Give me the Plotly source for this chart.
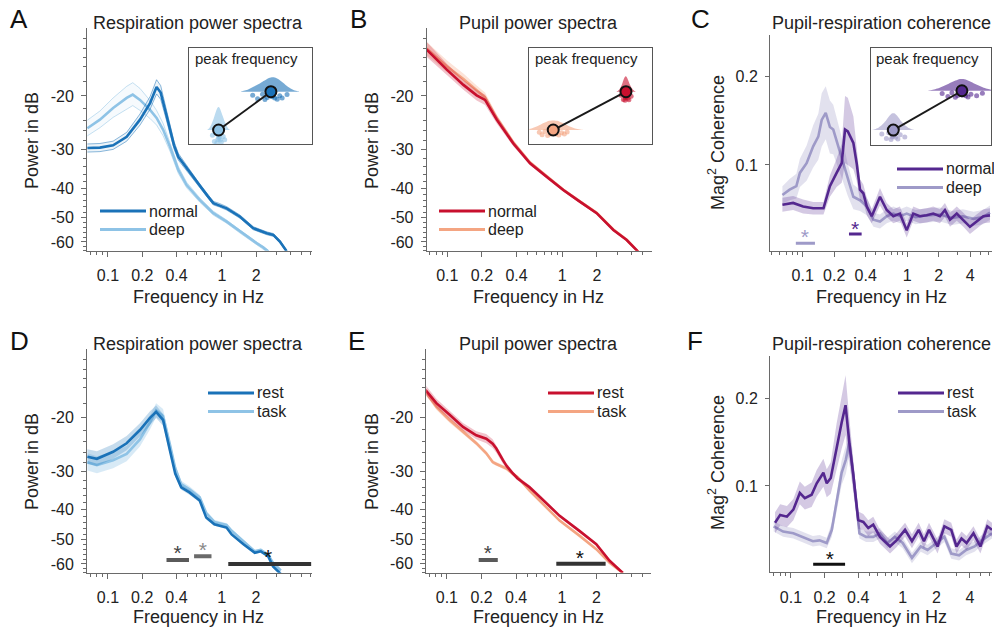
import numpy as np
import plotly.graph_objs as go

W, H = 994, 631
FONT = 'Liberation Sans, Arial, sans-serif'
INK = '#222222'
AXIS = '#6a6a6a'

BLUE, BLUE_L = '#1a72b8', '#8ec3e6'
RED, RED_L = '#c8102e', '#f4a582'
PURP, PURP_L = '#54278f', '#9e9ac8'

# ---------------- data ----------------
# A  respiration power spectra (dB), normal vs deep breathing
resp_f_normal = [0.066, 0.085, 0.111, 0.146, 0.191, 0.234, 0.267, 0.29, 0.32, 0.35, 0.38, 0.414, 0.49, 0.57,
                 0.64, 0.75, 0.84, 0.95, 1.1, 1.44, 1.88, 2.47, 2.82, 3.22, 3.69]
resp_db_normal = [-29.6, -29.5, -29.0, -27.2, -23.9, -21.1, -18.7, -19.5, -22.5, -25.5, -29.0, -31.6, -34.4, -37.0,
                  -39.5, -42.5, -44.8, -45.5, -46.6, -49.6, -54.1, -56.2, -56.9, -59.8, -64.3]
resp_sem_normal = [0.9, 0.9, 0.9, 0.9, 1.0, 1.0, 1.0, 1.0, 0.9, 0.9, 0.8, 0.8, 0.7, 0.7,
                   0.6, 0.6, 0.6, 0.6, 0.6, 0.6, 0.6, 0.6, 0.6, 0.6, 0.6]
resp_f_deep = [0.066, 0.085, 0.111, 0.146, 0.165, 0.191, 0.234, 0.267, 0.305, 0.35, 0.414, 0.49, 0.64, 0.84,
               1.1, 1.44, 2.01, 2.3, 2.55]
resp_db_deep = [-25.5, -23.9, -21.9, -20.3, -19.8, -20.6, -22.2, -23.6, -25.8, -29.3, -34.9, -39.1, -43.8, -48.3,
                -51.5, -55.5, -60.5, -62.5, -64.5]
resp_sem_deep = [1.5, 1.5, 1.6, 1.7, 1.7, 1.7, 1.5, 1.3, 1.2, 1.0, 0.9, 0.8, 0.7, 0.7, 0.6, 0.6, 0.6, 0.6, 0.6]

# B  pupil power spectra (dB)
pup_f = [0.066, 0.099, 0.138, 0.18, 0.213, 0.269, 0.375, 0.524, 0.73, 1.02, 1.42, 1.99, 2.78, 3.63, 4.58]
pup_db_normal = [-14.1, -16.4, -18.4, -19.9, -20.6, -23.9, -28.6, -33.2, -36.7, -40.6, -44.3, -48.3, -54.8, -59.1, -64.6]
pup_db_deep = [-14.0, -16.0, -17.6, -19.2, -20.2, -23.6, -28.4, -33.0, -36.6, -40.5, -44.2, -48.2, -54.6, -59.0, -64.6]
pup_sem_normal = [0.8, 0.7, 0.7, 0.8, 0.8, 0.7, 0.6, 0.5, 0.5, 0.5, 0.5, 0.5, 0.5, 0.5, 0.5]
pup_sem_deep = [0.7, 0.7, 0.7, 0.7, 0.7, 0.6, 0.6, 0.5, 0.5, 0.5, 0.5, 0.5, 0.5, 0.5, 0.5]

# C  pupil-respiration coherence, normal vs deep
coh_f_normal = [0.064, 0.081, 0.101, 0.126, 0.158, 0.182, 0.211, 0.236, 0.254, 0.27, 0.305, 0.328, 0.353, 0.38,
                0.41, 0.457, 0.548, 0.636, 0.735, 0.85, 0.987, 1.14, 1.32, 1.53, 1.77, 2.05, 2.29, 2.56, 2.97,
                3.43, 3.97, 4.6, 5.33, 6.17]
coh_normal = [0.055, 0.057, 0.053, 0.051, 0.051, 0.076, 0.091, 0.102, 0.140, 0.138, 0.125, 0.102, 0.072, 0.068,
              0.053, 0.042, 0.064, 0.049, 0.042, 0.045, 0.026, 0.045, 0.042, 0.043, 0.045, 0.042, 0.049, 0.038,
              0.045, 0.038, 0.030, 0.036, 0.042, 0.043]
coh_sem_normal = [0.008, 0.008, 0.008, 0.007, 0.007, 0.012, 0.016, 0.022, 0.038, 0.038, 0.030, 0.020, 0.012, 0.010,
                  0.010, 0.008, 0.010, 0.008, 0.008, 0.008, 0.008, 0.008, 0.008, 0.008, 0.008, 0.008, 0.008, 0.008,
                  0.008, 0.008, 0.008, 0.008, 0.008, 0.008]
coh_f_deep = [0.064, 0.075, 0.087, 0.094, 0.109, 0.126, 0.141, 0.152, 0.166, 0.182, 0.196, 0.219, 0.245, 0.27,
              0.305, 0.353, 0.41, 0.475, 0.548, 0.636, 0.735, 0.85, 0.987, 1.2, 1.53, 2.05, 2.7, 3.4, 4.3, 5.3, 6.17]
coh_deep = [0.066, 0.072, 0.076, 0.091, 0.102, 0.121, 0.132, 0.151, 0.159, 0.143, 0.140, 0.121, 0.102, 0.083,
            0.064, 0.060, 0.053, 0.038, 0.036, 0.042, 0.045, 0.042, 0.045, 0.041, 0.043, 0.044, 0.040, 0.042,
            0.039, 0.041, 0.046]
coh_sem_deep = [0.010, 0.012, 0.014, 0.016, 0.020, 0.024, 0.026, 0.030, 0.030, 0.030, 0.028, 0.025, 0.022, 0.018,
                0.014, 0.012, 0.010, 0.008, 0.008, 0.008, 0.008, 0.008, 0.008, 0.008, 0.008, 0.008, 0.008, 0.008,
                0.008, 0.008, 0.008]

# D  respiration power spectra, rest vs task
rt_f = [0.066, 0.08, 0.111, 0.146, 0.191, 0.234, 0.265, 0.305, 0.35, 0.39, 0.44, 0.52, 0.64, 0.73, 0.86, 1.1,
        1.22, 1.55, 1.95, 2.2, 2.55, 2.82, 3.3]
resp_db_rest = [-26.9, -27.3, -25.9, -24.3, -22.0, -20.1, -19.2, -20.4, -25.6, -30.5, -33.8, -35.1, -37.3, -42.4,
                -44.6, -45.7, -48.1, -51.8, -55.2, -54.6, -56.6, -61.1, -64.7]
resp_db_task = [-28.0, -28.6, -27.6, -26.3, -23.6, -20.8, -19.0, -19.8, -24.5, -29.3, -33.0, -34.3, -36.4, -41.0,
                -43.8, -44.8, -46.8, -50.6, -54.6, -54.0, -56.0, -59.5, -63.0]
resp_sem_rest = [1.5, 1.5, 1.4, 1.3, 1.1, 1.0, 0.9, 0.9, 0.8, 0.7, 0.6, 0.6, 0.6, 0.6, 0.5, 0.5, 0.5, 0.5, 0.5,
                 0.5, 0.5, 0.5, 0.5]
resp_sem_task = [1.8, 1.8, 1.7, 1.5, 1.3, 1.1, 1.0, 1.0, 0.9, 0.8, 0.8, 0.8, 0.7, 0.7, 0.7, 0.6, 0.6, 0.6, 0.6,
                 0.6, 0.6, 0.6, 0.6]

# E  pupil power spectra, rest vs task
pe_f = [0.065, 0.081, 0.105, 0.138, 0.18, 0.22, 0.25, 0.269, 0.307, 0.33, 0.375, 0.41, 0.524, 0.73, 0.955,
        1.42, 1.99, 2.6, 3.39]
pup_db_rest = [-16.3, -18.0, -19.6, -21.5, -22.9, -23.5, -24.4, -25.3, -27.6, -28.8, -30.5, -31.6, -33.8, -37.9,
               -41.9, -46.9, -51.8, -58.7, -64.3]
pup_db_task = [-16.5, -18.5, -20.4, -22.3, -24.3, -26.2, -28.0, -28.4, -29.0, -29.4, -30.6, -31.3, -34.7, -39.3,
               -43.4, -48.6, -53.8, -59.6, -64.3]
pup_sem_rest = [0.6, 0.6, 0.6, 0.6, 0.7, 0.8, 0.8, 0.8, 0.7, 0.6, 0.5, 0.5, 0.5, 0.5, 0.5, 0.5, 0.5, 0.5, 0.5]
pup_sem_task = [0.4, 0.4, 0.4, 0.4, 0.4, 0.4, 0.4, 0.4, 0.4, 0.4, 0.4, 0.4, 0.4, 0.4, 0.4, 0.4, 0.4, 0.4, 0.4]

# F  pupil-respiration coherence, rest vs task
coh_f_rest = [0.072, 0.080, 0.092, 0.105, 0.12, 0.133, 0.153, 0.17, 0.195, 0.209, 0.227, 0.256, 0.284, 0.308,
              0.333, 0.361, 0.40, 0.444, 0.492, 0.545, 0.626, 0.77, 0.88, 1.05, 1.21, 1.39, 1.55, 1.72, 2.05,
              2.36, 2.72, 3.03, 3.36, 3.73, 4.3, 4.96, 5.72, 6.3]
coh_rest = [0.058, 0.067, 0.065, 0.073, 0.092, 0.086, 0.090, 0.103, 0.115, 0.103, 0.109, 0.145, 0.172, 0.192,
            0.149, 0.113, 0.061, 0.059, 0.052, 0.056, 0.042, 0.031, 0.038, 0.050, 0.037, 0.050, 0.037, 0.050,
            0.031, 0.054, 0.050, 0.031, 0.040, 0.035, 0.046, 0.031, 0.054, 0.050]
coh_sem_rest = [0.012, 0.012, 0.012, 0.012, 0.013, 0.013, 0.014, 0.015, 0.016, 0.016, 0.018, 0.026, 0.030, 0.034,
                0.028, 0.020, 0.010, 0.009, 0.009, 0.009, 0.008, 0.008, 0.008, 0.008, 0.008, 0.008, 0.008, 0.008,
                0.008, 0.008, 0.008, 0.008, 0.008, 0.008, 0.008, 0.008, 0.008, 0.008]
coh_f_task = [0.07, 0.085, 0.105, 0.128, 0.157, 0.18, 0.209, 0.232, 0.256, 0.284, 0.31, 0.333, 0.361, 0.39, 0.41,
              0.47, 0.545, 0.626, 0.73, 0.85, 1.0, 1.21, 1.45, 1.67, 2.0, 2.36, 2.72, 3.2, 3.7, 4.4, 5.1, 6.3]
coh_task = [0.054, 0.048, 0.046, 0.042, 0.037, 0.038, 0.035, 0.050, 0.080, 0.115, 0.130, 0.150, 0.113, 0.069,
            0.046, 0.042, 0.042, 0.046, 0.035, 0.042, 0.035, 0.018, 0.031, 0.027, 0.035, 0.042, 0.023, 0.021,
            0.027, 0.031, 0.038, 0.046]
coh_sem_task = [0.006, 0.006, 0.006, 0.006, 0.006, 0.006, 0.006, 0.008, 0.010, 0.014, 0.016, 0.016, 0.014, 0.008,
                0.006, 0.006, 0.006, 0.006, 0.006, 0.006, 0.006, 0.006, 0.006, 0.006, 0.006, 0.006, 0.006, 0.006,
                0.006, 0.006, 0.006, 0.006]

# peak frequencies per subject (insets)
peak_resp_deep = [0.148, 0.152, 0.155, 0.157, 0.159, 0.160, 0.161, 0.162, 0.164, 0.166, 0.170, 0.173]
peak_resp_normal = [0.23, 0.24, 0.25, 0.255, 0.26, 0.265, 0.27, 0.272, 0.275, 0.28, 0.285, 0.29, 0.30]
peak_pup_deep = [0.125, 0.13, 0.135, 0.14, 0.145, 0.148, 0.15, 0.152, 0.155, 0.16, 0.165, 0.17, 0.175]
peak_pup_normal = [0.272, 0.276, 0.278, 0.279, 0.28, 0.28, 0.281, 0.282, 0.284, 0.286, 0.29]
peak_coh_deep = [0.14, 0.148, 0.152, 0.156, 0.158, 0.16, 0.16, 0.162, 0.164, 0.168, 0.172, 0.18]
peak_coh_normal = [0.245, 0.255, 0.262, 0.268, 0.272, 0.276, 0.28, 0.283, 0.286, 0.29, 0.295, 0.305, 0.315]

# significance clusters: (f_start, f_end, level, star_f, star_level)
sig_D = [(0.327, 0.515, -58.3, 0.41, -56.2), (0.571, 0.812, -56.6, 0.68, -54.8), (1.14, 6.1, -60.0, 2.55, -57.6)]
sig_E = [(0.189, 0.277, -58.3, 0.227, -56.2), (0.894, 2.4, -60.0, 1.43, -58.3)]
sig_C = [(0.086, 0.131, 0.0113, 0.105, 0.0165), (0.277, 0.366, 0.0219, 0.316, 0.0258)]
sig_F = [(0.158, 0.305, 0.0107, 0.223, 0.0150)]


def X(p):
    return p / W


def Y(p):
    return 1 - p / H


def ax_ref(n):
    return ('x' if n == 1 else 'x%d' % n), ('y' if n == 1 else 'y%d' % n)


def rgba(c, a):
    c = c.lstrip('#')
    return 'rgba(%d,%d,%d,%s)' % (int(c[0:2], 16), int(c[2:4], 16), int(c[4:6], 16), a)


traces = []


def curve(f, v, sem, color, n, flip=True, band=0.3, edges=False, width=2.6):
    xr, yr = ax_ref(n)
    # spectra are drawn as |dB| on a reversed log axis
    y = [-a for a in v] if flip else list(v)
    hi = [a + e for a, e in zip(y, sem)]
    lo = [a - e for a, e in zip(y, sem)]
    traces.append(go.Scatter(x=f + f[::-1], y=hi + lo[::-1], fill='toself', fillcolor=rgba(color, band),
                             line=dict(width=0), mode='lines', xaxis=xr, yaxis=yr, hoverinfo='skip'))
    if edges:
        for e in (hi, lo):
            traces.append(go.Scatter(x=f, y=e, mode='lines', line=dict(color=rgba(color, 0.5), width=1),
                                     xaxis=xr, yaxis=yr, hoverinfo='skip'))
    traces.append(go.Scatter(x=f, y=y, mode='lines', line=dict(color=color, width=width),
                             xaxis=xr, yaxis=yr, hoverinfo='skip'))


def sig(items, n, colors, star_colors, flip=True, width=4):
    xr, yr = ax_ref(n)
    s = -1 if flip else 1
    for (f0, f1, lev, sf, sl), c, sc in zip(items, colors, star_colors):
        traces.append(go.Scatter(x=[f0, f1], y=[s * lev, s * lev], mode='lines', line=dict(color=c, width=width),
                                 xaxis=xr, yaxis=yr, hoverinfo='skip'))
        traces.append(go.Scatter(x=[sf], y=[s * sl], mode='text', text=['*'], textposition='middle center',
                                 textfont=dict(size=21, color=sc, family=FONT), xaxis=xr, yaxis=yr,
                                 hoverinfo='skip'))


def raincloud(deep, normal, c_deep, c_normal, n, w_deep, w_normal, bw_deep, bw_normal):
    xr, yr = ax_ref(n)
    for vals, pos, c, w, bw in ((deep, 0, c_deep, w_deep, bw_deep), (normal, 1, c_normal, w_normal, bw_normal)):
        traces.append(go.Violin(x=vals, y0=pos, orientation='h', side='positive', width=w, bandwidth=bw,
                                fillcolor=rgba(c, 0.6), line=dict(width=0, color=rgba(c, 0.6)),
                                points='all', pointpos=-0.35, jitter=0.25,
                                marker=dict(size=5, color=rgba(c, 0.6)),
                                box_visible=False, meanline_visible=False, spanmode='soft',
                                xaxis=xr, yaxis=yr, hoverinfo='skip'))
    traces.append(go.Scatter(x=[np.mean(deep), np.mean(normal)], y=[0, 1], mode='lines+markers',
                             line=dict(color='#1a1a1a', width=2),
                             marker=dict(size=11, color=[c_deep, c_normal], line=dict(color='#111111', width=2)),
                             xaxis=xr, yaxis=yr, hoverinfo='skip'))


# A
curve(resp_f_deep, resp_db_deep, resp_sem_deep, BLUE_L, 1, band=0.08, edges=True)
curve(resp_f_normal, resp_db_normal, resp_sem_normal, BLUE, 1, band=0.08, edges=True)
# B
curve(pup_f, pup_db_deep, pup_sem_deep, RED_L, 2, band=0.3)
curve(pup_f, pup_db_normal, pup_sem_normal, RED, 2, band=0.25)
# C
curve(coh_f_deep, coh_deep, coh_sem_deep, PURP_L, 3, flip=False, band=0.3)
curve(coh_f_normal, coh_normal, coh_sem_normal, PURP, 3, flip=False, band=0.25)
sig(sig_C, 3, [PURP_L, PURP], [PURP_L, PURP], flip=False, width=3)
# D
curve(rt_f, resp_db_task, resp_sem_task, BLUE_L, 4, band=0.35)
curve(rt_f, resp_db_rest, resp_sem_rest, BLUE, 4, band=0.25)
sig(sig_D, 4, ['#5a5a5a', '#6a6a6a', '#333333'], ['#444444', '#8a8a8a', '#111111'])
# E
curve(pe_f, pup_db_task, pup_sem_task, RED_L, 5, band=0.35)
curve(pe_f, pup_db_rest, pup_sem_rest, RED, 5, band=0.25)
sig(sig_E, 5, ['#5a5a5a', '#333333'], ['#444444', '#111111'])
# F
curve(coh_f_task, coh_task, coh_sem_task, PURP_L, 6, flip=False, band=0.3)
curve(coh_f_rest, coh_rest, coh_sem_rest, PURP, 6, flip=False, band=0.25)
sig(sig_F, 6, ['#111111'], ['#111111'], flip=False, width=3)
# insets
raincloud(peak_resp_deep, peak_resp_normal, BLUE_L, BLUE, 7, 1.2, 0.75, 0.005, 0.012)
raincloud(peak_pup_deep, peak_pup_normal, RED_L, RED, 8, 0.5, 0.8, 0.014, 0.004)
raincloud(peak_coh_deep, peak_coh_normal, PURP_L, PURP, 9, 0.85, 0.6, 0.008, 0.012)

fig = go.Figure(traces)

tick_font = dict(size=16, color=INK, family=FONT)


def x_axis(n, x0, x1, f0, f1, major, minor):
    return dict(domain=[X(x0), X(x1)], type='log', range=[np.log10(f0), np.log10(f1)], anchor=ax_ref(n)[1],
                tickvals=major, ticktext=[('%g' % t) for t in major], ticks='outside', ticklen=5,
                tickcolor=AXIS, showline=True, linecolor=AXIS, linewidth=1, showgrid=False, zeroline=False,
                tickfont=tick_font, ticklabelstandoff=5,
                minor=dict(tickvals=minor, ticks='outside', ticklen=3, tickcolor=AXIS, showgrid=False))


def y_spec(n, y0, y1):
    return dict(domain=[Y(y1), Y(y0)], type='log', range=[np.log10(64.07), np.log10(12.02)],
                anchor=ax_ref(n)[0], tickvals=[20, 30, 40, 50, 60], ticktext=['-20', '-30', '-40', '-50', '-60'],
                ticks='outside', ticklen=5, tickcolor=AXIS, showline=True, linecolor=AXIS, linewidth=1,
                showgrid=False, zeroline=False, tickfont=tick_font, ticklabelstandoff=4,
                minor=dict(tickvals=[12, 13, 14, 15, 16, 18, 22, 24, 26, 28, 32, 34, 36, 38, 42, 44, 46, 48,
                                     52, 54, 56, 58, 62, 64],
                           ticks='outside', ticklen=3, tickcolor=AXIS, showgrid=False))


def y_coh(n, y0, y1, v0, v1):
    return dict(domain=[Y(y1), Y(y0)], range=[v0, v1], anchor=ax_ref(n)[0], tickvals=[0.1, 0.2],
                ticktext=['0.1', '0.2'], ticks='outside', ticklen=4, tickcolor=AXIS, showline=True,
                linecolor=AXIS, linewidth=1, showgrid=False, zeroline=False, tickfont=tick_font,
                ticklabelstandoff=4)


def inset(n, x0, x1, y0, y1, f0, f1, c0, c1):
    return (dict(domain=[X(x0), X(x1)], range=[f0, f1], anchor=ax_ref(n)[1], showline=True, mirror=True,
                 linecolor='#555555', linewidth=1, ticks='', showticklabels=False, showgrid=False,
                 zeroline=False),
            dict(domain=[Y(y1), Y(y0)], range=[c0, c1], anchor=ax_ref(n)[0], showline=True, mirror=True,
                 linecolor='#555555', linewidth=1, ticks='', showticklabels=False, showgrid=False,
                 zeroline=False))


maj5 = [0.1, 0.2, 0.4, 1, 2]
maj6 = [0.1, 0.2, 0.4, 1, 2, 4]
min5 = [0.07, 0.08, 0.09, 0.5, 0.6, 0.7, 0.8, 0.9, 3, 4, 5, 6]
min6 = [0.05, 0.06, 0.07, 0.08, 0.09, 0.5, 0.6, 0.7, 0.8, 0.9, 3, 5, 6]

lay = {}
lay['xaxis'] = x_axis(1, 87, 312, 0.0655, 6.16, maj5, min5)
lay['yaxis'] = y_spec(1, 28.3, 250.7)
lay['xaxis2'] = x_axis(2, 426.7, 651.7, 0.0662, 5.99, maj5, min5)
lay['yaxis2'] = y_spec(2, 28.3, 250.7)
lay['xaxis3'] = x_axis(3, 770, 992, 0.0487, 6.45, maj6, min6)
lay['yaxis3'] = y_coh(3, 35, 250.7, 0.003, 0.247)
lay['xaxis4'] = x_axis(4, 87, 311.7, 0.0655, 6.16, maj5, min5)
lay['yaxis4'] = y_spec(4, 349.3, 572.7)
lay['xaxis5'] = x_axis(5, 426.3, 651.3, 0.0662, 5.99, maj5, min5)
lay['yaxis5'] = y_spec(5, 349.3, 572.5)
lay['xaxis6'] = x_axis(6, 770, 992, 0.0649, 6.3, maj6, min5)
lay['yaxis6'] = y_coh(6, 356, 572.3, 0.0016, 0.248)
lay['xaxis7'], lay['yaxis7'] = inset(7, 189.3, 311.7, 47.7, 144.3, 0.1009, 0.3502, -0.373, 2.149)
lay['xaxis8'], lay['yaxis8'] = inset(8, 529.3, 651.7, 47.7, 144.3, 0.107, 0.327, -0.373, 2.149)
lay['xaxis9'], lay['yaxis9'] = inset(9, 871, 991, 47.5, 145, 0.1212, 0.33, -0.38, 2.10)

ann = []


def text(x, y, s, size=16, anchor='center', angle=0, color=INK):
    ann.append(dict(x=X(x), y=Y(y), xref='paper', yref='paper', text=s, showarrow=False, xanchor=anchor,
                    yanchor='middle', textangle=angle, font=dict(size=size, color=color, family=FONT)))


# panel letters and titles
for lt, x, y in (('A', 19, 19), ('B', 358, 19), ('C', 700, 19), ('D', 19, 341), ('E', 356, 341), ('F', 695, 341)):
    text(x, y, lt, size=26, color='#111111')
for t, x, y in (('Respiration power spectra', 198, 23), ('Pupil power spectra', 538, 23),
                ('Pupil-respiration coherence', 881, 23), ('Respiration power spectra', 198, 344),
                ('Pupil power spectra', 538, 344), ('Pupil-respiration coherence', 881, 344)):
    text(x, y, t, size=18)
# axis titles
for x, y in ((198, 297), (538, 297), (881, 297), (198, 617), (538, 617), (881, 617)):
    text(x, y, 'Frequency in Hz', size=18)
for x, y in ((32, 141), (372, 141), (32, 462), (372, 462)):
    text(x, y, 'Power in dB', size=18, angle=-90)
for x, y in ((716, 143), (716, 463)):
    text(x, y, 'Mag<sup>2</sup> Coherence', size=18, angle=-90)
# inset labels
for x in (193, 533, 874):
    text(x, 58, 'peak frequency', size=15, anchor='left')

# legends
shapes = []
for x0, y0, labels, cols in ((100, 211, ('normal', 'deep'), (BLUE, BLUE_L)),
                             (439, 211, ('normal', 'deep'), (RED, RED_L)),
                             (897, 169, ('normal', 'deep'), (PURP, PURP_L)),
                             (208, 393, ('rest', 'task'), (BLUE, BLUE_L)),
                             (548, 393, ('rest', 'task'), (RED, RED_L)),
                             (898, 393, ('rest', 'task'), (PURP, PURP_L))):
    for i, (lab, c) in enumerate(zip(labels, cols)):
        yy = y0 + i * 18.5
        shapes.append(dict(type='line', xref='paper', yref='paper', x0=X(x0), x1=X(x0 + 46), y0=Y(yy), y1=Y(yy),
                           line=dict(color=c, width=3)))
        text(x0 + 47, yy, lab, size=16, anchor='left')

fig.update_layout(width=W, height=H, margin=dict(l=0, r=0, t=0, b=0), paper_bgcolor='white',
                  plot_bgcolor='rgba(0,0,0,0)', showlegend=False, violinmode='overlay',
                  font=dict(family=FONT, color=INK), annotations=ann, shapes=shapes, **lay)

# the page body has a default 8px margin; drop it so the figure fills the window
fig.write_html("out.html", config={'displayModeBar': False},
               post_script="document.body.style.margin='0px';")
